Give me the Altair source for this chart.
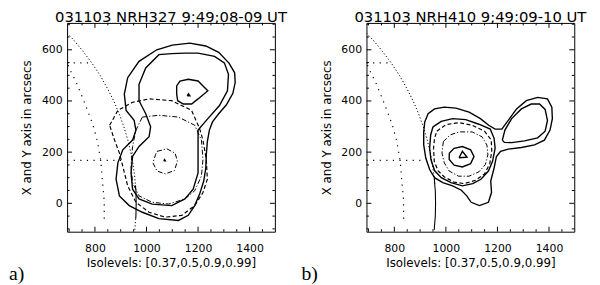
import altair as alt
import pandas as pd

# ---------------- axes ----------------
X_DOMAIN = [692, 1498]
Y_DOMAIN = [-111, 705]
X_MAJOR = [800, 1000, 1200, 1400]
X_MINOR = [700, 750, 850, 900, 950, 1050, 1100, 1150, 1250, 1300, 1350, 1450]
Y_MAJOR = [0, 200, 400, 600]
Y_MINOR = [-100, -50, 50, 100, 150, 250, 300, 350, 450, 500, 550, 650, 700]

TITLE_A = "031103 NRH327 9:49;08-09 UT"
TITLE_B = "031103 NRH410 9;49:09-10 UT"
X_TITLE = "Isolevels: [0.37,0.5,0.9,0.99]"
Y_TITLE = "X and Y axis in arcsecs"

# ---------------- solar limb and grid (arcsec) ----------------
LIMB_UPPER = [(692, 665), (716, 640), (749, 600), (787, 550), (820, 500), (848, 450),
              (873, 400), (894, 350), (912, 300), (927, 250), (939, 200), (948, 150),
              (955, 100), (957, 70)]
LIMB_LOWER_A = [(957, 70), (959, 50), (960, 0), (959, -50), (958, -60)]
LIMB_TAIL_A = [(958, -60), (955, -100), (954, -111)]
LIMB_LOWER_B = [(955, 100), (957, 70), (959, 50), (960, 0), (959, -50), (955, -100)]
LIMB_TAIL_B = [(955, -100), (954, -111)]
GRID_H1 = [(692, 168), (905, 168)]
GRID_H2 = [(692, 549), (785, 549)]
GRID_MER = [(696, 540), (709, 510), (728, 472), (759, 395), (791, 311), (810, 241),
            (823, 164), (829, 87), (836, 10), (836, -60)]

# ---------------- panel a contours ----------------
A_OUTER = [(1168, 626), (1100, 618), (1040, 600), (971, 555), (927, 491), (914, 427),
           (921, 363), (952, 324), (959, 286), (946, 247), (908, 209), (889, 158),
           (882, 94), (895, 29), (933, -9), (984, -35), (1048, -60), (1124, -67),
           (1162, -47), (1187, -9), (1206, 36), (1222, 87), (1230, 138), (1232, 190),
           (1236, 241), (1244, 286), (1256, 318), (1280, 350), (1310, 385), (1335, 430),
           (1344, 472), (1342, 510), (1320, 548), (1280, 590), (1230, 615), (1168, 626)]
A_INNER = [(1149, 587), (1098, 585), (1048, 581), (997, 529), (971, 465), (971, 401),
           (997, 350), (1016, 299), (1010, 260), (971, 222), (946, 183), (940, 119),
           (946, 55), (971, 17), (1022, -3), (1098, -9), (1149, 17), (1181, 55),
           (1200, 119), (1200, 209), (1200, 286), (1238, 331), (1283, 382), (1314, 440),
           (1318, 504), (1302, 549), (1264, 574), (1200, 587), (1149, 587)]
A_PEAK = [(1117, 459), (1130, 478), (1162, 485), (1200, 478), (1225, 453), (1238, 440),
          (1200, 408), (1175, 388), (1143, 388), (1121, 401), (1117, 427), (1117, 459)]
A_PEAK_TOP = [(1158, 420), (1163, 428), (1168, 420), (1158, 420)]
A_DASH = [(857, 305), (889, 363), (946, 395), (1010, 408), (1098, 401), (1175, 363),
          (1206, 292), (1219, 247), (1232, 171), (1236, 94), (1219, 42), (1187, -9),
          (1137, -47), (1073, -54), (1010, -35), (959, 4), (927, 68), (908, 145),
          (895, 196), (876, 247), (857, 305)]
A_DASHDOT = [(984, 337), (1048, 344), (1124, 337), (1187, 305), (1213, 247), (1219, 171),
             (1213, 106), (1187, 49), (1149, 17), (1086, -3), (1022, 4), (971, 29),
             (946, 81), (940, 145), (946, 222), (959, 286), (984, 337)]
A_CORE = [(1041, 203), (1079, 213), (1111, 196), (1120, 164), (1108, 128), (1073, 115),
          (1041, 126), (1025, 158), (1035, 190), (1041, 203)]
A_CORE_TOP = [(1067, 166), (1070, 171), (1073, 166), (1067, 166)]

# ---------------- panel b contours ----------------
B_OUTER = [(918, 318), (931, 350), (956, 369), (994, 376), (1039, 372), (1090, 356),
           (1134, 331), (1166, 305), (1191, 290), (1217, 290), (1242, 324), (1274, 369),
           (1312, 401), (1356, 414), (1394, 408), (1411, 376), (1413, 331), (1404, 286),
           (1382, 247), (1344, 228), (1293, 218), (1242, 212), (1212, 203), (1196, 183),
           (1187, 138), (1174, 87), (1177, 42), (1165, 4), (1130, -9), (1098, 4),
           (1081, 29), (1060, 51), (1026, 68), (988, 81), (956, 100), (937, 132),
           (922, 177), (914, 228), (914, 279), (918, 318)]
B_LOOP = [(1219, 247), (1229, 286), (1255, 331), (1293, 369), (1331, 388), (1363, 388),
          (1385, 367), (1394, 324), (1385, 282), (1356, 256), (1305, 244), (1255, 237),
          (1227, 238), (1219, 247)]
B_INNER = [(950, 299), (982, 320), (1026, 331), (1077, 327), (1128, 309), (1172, 290),
           (1187, 254), (1191, 215), (1181, 164), (1165, 126), (1136, 94), (1104, 77),
           (1064, 68), (1020, 81), (982, 100), (956, 128), (942, 171), (937, 215),
           (941, 267), (950, 299)]
B_DASH = [(965, 282), (1001, 308), (1051, 315), (1102, 305), (1150, 282), (1176, 247),
          (1178, 203), (1170, 154), (1150, 115), (1115, 90), (1071, 77), (1032, 83),
          (994, 103), (969, 128), (955, 164), (952, 215), (956, 254), (965, 282)]
B_DASHDOT = [(990, 241), (1016, 267), (1051, 279), (1102, 279), (1140, 260), (1159, 228),
             (1163, 190), (1153, 151), (1128, 123), (1090, 106), (1049, 106), (1013, 126),
             (994, 158), (985, 196), (990, 241)]
B_PEAK = [(1013, 196), (1032, 215), (1064, 222), (1096, 209), (1109, 183), (1096, 155),
          (1064, 142), (1032, 149), (1013, 171), (1013, 196)]
B_PEAK_TOP = [(1051, 178), (1064, 203), (1082, 180), (1051, 178)]

PANEL_A = [("limb_u", "limb", LIMB_UPPER), ("limb_l", "solid_thin", LIMB_LOWER_A),
           ("limb_t", "limb", LIMB_TAIL_A), ("g1", "dot", GRID_H1), ("g2", "dot", GRID_H2),
           ("g3", "dot", GRID_MER), ("outer", "solid", A_OUTER), ("inner", "solid", A_INNER),
           ("peak", "solid", A_PEAK), ("peaktop", "solid", A_PEAK_TOP),
           ("dash", "dash", A_DASH), ("dashdot", "dashdot", A_DASHDOT),
           ("core", "dashdot", A_CORE), ("coretop", "solid", A_CORE_TOP)]
PANEL_B = [("limb_u", "limb", LIMB_UPPER), ("limb_l", "solid_thin", LIMB_LOWER_B),
           ("limb_t", "limb", LIMB_TAIL_B), ("g1", "dot", GRID_H1), ("g2", "dot", GRID_H2),
           ("g3", "dot", GRID_MER), ("outer", "solid", B_OUTER), ("loop", "solid", B_LOOP),
           ("inner", "solid", B_INNER), ("peak", "solid", B_PEAK),
           ("peaktop", "solid", B_PEAK_TOP), ("dash", "dash", B_DASH),
           ("dashdot", "dashdot", B_DASHDOT)]

STYLES = {
    "solid": dict(strokeWidth=1.4),
    "solid_thin": dict(strokeWidth=1.1),
    "dash": dict(strokeWidth=1.2, strokeDash=[4, 2.5]),
    "dashdot": dict(strokeWidth=1.0, strokeDash=[5, 2, 1.2, 2]),
    "dot": dict(strokeWidth=1.2, strokeDash=[1.2, 5.5]),
    "limb": dict(strokeWidth=1.0, strokeDash=[1.2, 2.2]),
}

W, H = 211, 212
FONT = "DejaVu Sans"
XS = alt.Scale(domain=X_DOMAIN, nice=False, zero=False)
YS = alt.Scale(domain=Y_DOMAIN, nice=False, zero=False)
X_AXIS = alt.Axis(values=X_MAJOR, format="d", ticks=False, tickSize=0, domain=False,
                  grid=False, labelPadding=11, labelFont=FONT, labelFontSize=11,
                  labelColor="black", labelOverlap=False, labelFlush=False,
                  title=X_TITLE, titleFont=FONT, titleFontSize=12, titleFontWeight="normal",
                  titleColor="black", titlePadding=4)
Y_AXIS = alt.Axis(values=Y_MAJOR, format="d", ticks=False, tickSize=0, domain=False,
                  grid=False, labelPadding=5, labelFont=FONT, labelFontSize=11,
                  labelColor="black", labelOverlap=False, labelFlush=False,
                  title=Y_TITLE, titleFont=FONT, titleFontSize=12, titleFontWeight="normal",
                  titleColor="black", titlePadding=8)


def to_df(items):
    rows = []
    for cid, style, pts in items:
        for i, (x, y) in enumerate(pts):
            rows.append(dict(x=x, y=y, i=i, cid=cid, style=style))
    return pd.DataFrame(rows)


def tick_layers():
    out = []
    for vals, L in [(X_MAJOR, 5), (X_MINOR, 2.5)]:
        d = pd.DataFrame({"x": vals})
        base = alt.Chart(d).mark_rule(color="black", strokeWidth=1)
        xe = alt.X("x:Q", scale=XS, axis=X_AXIS)
        out.append(base.encode(x=xe, y=alt.value(H), y2=alt.value(H - L)))
        out.append(base.encode(x=xe, y=alt.value(0), y2=alt.value(L)))
    for vals, L in [(Y_MAJOR, 5), (Y_MINOR, 2.5)]:
        d = pd.DataFrame({"y": vals})
        base = alt.Chart(d).mark_rule(color="black", strokeWidth=1)
        ye = alt.Y("y:Q", scale=YS, axis=Y_AXIS)
        out.append(base.encode(y=ye, x=alt.value(0), x2=alt.value(L)))
        out.append(base.encode(y=ye, x=alt.value(W), x2=alt.value(W - L)))
    return out


def panel(title, items, label, label_dx):
    df = to_df(items)
    layers = []
    for style, props in STYLES.items():
        sub = df[df["style"] == style]
        if sub.empty:
            continue
        layers.append(
            alt.Chart(sub).mark_line(color="black", clip=True, **props).encode(
                x=alt.X("x:Q", scale=XS, axis=X_AXIS),
                y=alt.Y("y:Q", scale=YS, axis=Y_AXIS),
                detail="cid:N",
                order="i:Q",
            )
        )
    layers += tick_layers()
    layers.append(
        alt.Chart(pd.DataFrame({"t": [label]})).mark_text(
            align="left", baseline="alphabetic", font="Liberation Serif", fontSize=20,
            color="black"
        ).encode(text="t:N", x=alt.value(label_dx), y=alt.value(261))
    )
    return alt.layer(*layers).properties(
        width=W, height=H,
        title=alt.TitleParams(title, font=FONT, fontSize=15, fontWeight="normal",
                              color="black", anchor="middle", offset=-3),
    )


chart = alt.hconcat(
    panel(TITLE_A, PANEL_A, "a)", -59),
    panel(TITLE_B, PANEL_B, "b)", -66),
    spacing=93, bounds="flush",
).properties(
    padding={"left": 0, "top": 0, "right": 5, "bottom": 0}, background="white"
).configure_view(stroke="black", strokeWidth=1)

chart.save("out.html", embed_options={"renderer": "svg", "actions": False})
